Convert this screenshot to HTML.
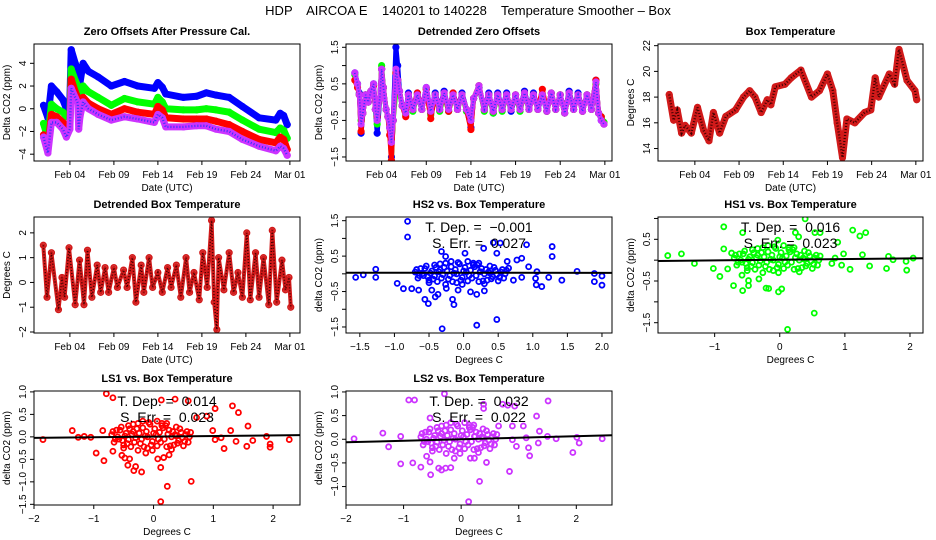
<!DOCTYPE html>
<html><head><meta charset="utf-8">
<style>
html,body{margin:0;padding:0;background:#fff;}
svg{display:block;font-family:"Liberation Sans",sans-serif;}
</style></head>
<body>
<svg id="chart" width="936" height="540" viewBox="0 0 936 540">
<text x="468" y="15" text-anchor="middle" font-size="13" style="white-space:pre">HDP    AIRCOA E    140201 to 140228    Temperature Smoother – Box</text>
</svg>
<script>
// ===== data =====
const timeTickDays = [4, 9, 14, 19, 24, 29];
const timeTickLabels = ["Feb 04", "Feb 09", "Feb 14", "Feb 19", "Feb 24", "Mar 01"];

const zeroDays = [1.0,1.5,1.9,2.5,3.2,3.6,4.0,4.15,4.6,4.9,5.0,5.15,5.5,6.1,7.2,8.7,10.2,11.7,13.6,14.0,14.5,14.9,16.9,18.4,19.5,20.6,22.1,23.6,25.5,27.4,27.9,28.3,28.7];
const zeroHS2 = [0.3,-0.8,2.0,1.5,0.8,0.0,0.8,5.2,4.0,3.5,1.5,2.3,4.0,3.3,2.8,2.0,2.4,2.0,1.8,2.3,1.9,1.3,1.0,1.1,1.4,1.2,1.0,0.2,-0.8,-1.0,-0.4,-0.6,-1.4];
const zeroHS1 = [-1.3,-2.6,0.4,0.0,-0.3,-0.7,-0.5,3.5,2.5,2.0,-0.5,0.5,2.0,1.5,1.0,0.3,0.9,0.6,0.4,1.0,0.6,0.0,-0.1,-0.1,0.0,-0.1,-0.3,-1.0,-1.8,-2.1,-1.7,-1.9,-2.6];
const zeroLS1 = [-2.3,-3.5,-0.5,-0.7,-1.2,-1.5,-1.5,2.6,1.5,1.0,-1.0,0.0,1.0,0.5,0.0,-0.5,0.0,-0.3,-0.5,0.2,-0.1,-0.8,-0.9,-0.9,-0.9,-1.1,-1.4,-2.0,-2.7,-3.0,-2.5,-2.7,-3.6];
const zeroLS2 = [-2.5,-3.9,-1.2,-1.2,-1.8,-2.5,-1.8,1.8,1.0,0.5,-1.8,-0.7,0.6,0.0,-0.5,-1.0,-0.7,-0.9,-1.2,-0.5,-0.8,-1.6,-1.6,-1.5,-1.5,-1.8,-2.0,-2.7,-3.3,-3.7,-3.3,-3.5,-4.1];

const detDays = [1.0,1.3,1.5,1.7,1.9,2.2,2.5,2.8,3.1,3.3,3.5,3.8,4.0,4.2,4.5,4.7,4.9,5.1,5.3,5.6,5.8,6.0,6.3,6.7,7.0,7.5,8.0,8.5,9.0,9.5,10.0,10.5,11.0,11.5,12.0,12.5,13.0,13.5,14.0,14.3,14.9,15.5,16.0,16.5,17.0,17.5,18.0,18.5,19.0,19.5,20.0,20.5,21.0,21.5,22.0,22.5,23.0,23.5,24.0,24.5,25.0,25.5,26.0,26.5,27.0,27.5,28.0,28.3,28.6,28.9];
const detHS2 = [0.8,0.5,0.25,-0.85,-0.3,0.2,0.0,0.3,0.5,-0.2,-0.85,0.1,0.9,0.4,-0.2,-0.4,-0.7,-1.5,-0.5,1.5,1.0,0.3,-0.1,-0.3,0.25,-0.2,0.25,-0.2,0.4,-0.3,0.25,-0.2,0.3,-0.25,0.25,-0.2,0.25,-0.2,-0.7,0.1,0.4,-0.2,0.25,-0.3,0.25,-0.2,0.25,-0.25,0.2,-0.2,0.3,-0.2,0.25,-0.2,0.2,-0.25,0.25,-0.2,0.2,-0.3,0.3,-0.2,0.25,-0.25,0.2,-0.2,0.6,-0.3,-0.5,-0.6];
const detHS1 = [0.75,0.5,0.2,-0.5,-0.3,0.2,0.0,0.3,0.45,-0.2,-0.6,0.1,1.0,0.4,-0.2,-0.4,-0.6,-1.6,-0.5,0.3,0.6,0.3,-0.1,-0.35,0.2,-0.25,0.2,-0.2,0.35,-0.35,0.2,-0.25,0.2,-0.25,0.2,-0.2,0.2,-0.25,-0.5,0.1,0.45,-0.25,0.2,-0.3,0.2,-0.25,0.2,-0.2,0.2,-0.25,0.25,-0.2,0.2,-0.2,0.2,-0.25,0.25,-0.2,0.2,-0.3,0.25,-0.2,0.2,-0.25,0.2,-0.2,0.5,-0.3,-0.4,-0.55];
const detLS1 = [0.6,0.4,0.2,-0.8,-0.3,0.2,0.0,0.3,0.45,-0.2,-0.4,0.1,0.9,0.4,-0.2,-0.4,-0.9,-1.6,-0.5,0.8,0.6,0.3,-0.1,-0.4,0.2,-0.2,0.25,-0.2,0.35,-0.45,0.2,-0.2,0.25,-0.25,0.25,-0.2,0.2,-0.2,-0.75,0.1,0.45,-0.2,0.2,-0.25,0.2,-0.2,0.2,-0.2,0.2,-0.2,0.25,-0.2,0.2,-0.2,0.35,-0.25,0.25,-0.2,0.2,-0.3,0.25,-0.2,0.2,-0.25,0.2,-0.2,0.6,-0.3,-0.4,-0.6];
const detLS2 = [0.8,0.5,0.2,-0.6,-0.3,0.2,0.0,0.3,0.5,-0.2,-0.5,0.1,0.9,0.4,-0.2,-0.4,-0.7,-1.1,-0.5,0.9,0.6,0.3,-0.1,-0.3,0.2,-0.2,0.2,-0.2,0.4,-0.25,0.2,-0.2,0.25,-0.2,0.2,-0.2,0.2,-0.2,-0.5,0.1,0.45,-0.2,0.2,-0.25,0.2,-0.2,0.2,-0.2,0.2,-0.2,0.25,-0.2,0.2,-0.2,0.2,-0.25,0.25,-0.2,0.2,-0.3,0.25,-0.2,0.2,-0.25,0.2,-0.2,0.55,-0.3,-0.5,-0.6];

const boxDays = [1.1,1.6,2.0,2.5,2.9,3.6,4.3,5.0,5.6,6.1,6.8,7.5,8.6,9.5,10.2,10.8,11.5,12.2,12.6,13.1,14.2,14.9,16.0,17.2,18.1,19.0,19.6,20.1,20.7,21.2,22.1,23.2,23.9,24.4,24.8,26.0,26.6,27.1,28.0,28.9,29.1];
const boxTemp = [18.2,16.2,17.0,15.2,15.8,15.2,17.2,15.4,14.6,16.8,15.2,16.5,17.0,18.0,18.5,18.0,16.8,17.8,17.4,18.8,19.0,19.5,20.1,18.0,18.5,19.8,18.5,16.0,13.3,16.3,16.0,16.8,17.0,19.5,18.0,19.8,19.0,21.7,19.3,18.5,17.8];

const dbtDays = [0.98,1.4,1.9,2.7,3.1,3.4,3.9,4.6,5.1,5.6,6.0,6.5,7.1,7.5,8.0,8.4,9.0,9.4,10.1,10.5,11.1,11.5,12.1,12.4,13.0,13.4,14.0,14.5,15.1,15.5,16.1,16.6,17.2,17.6,18.1,18.7,19.1,19.6,20.1,20.4,20.7,20.9,21.5,22.1,22.6,23.1,23.6,24.1,24.5,25.1,25.5,26.0,26.6,27.0,27.5,28.1,28.5,28.9,29.1];
const dbtTemp = [1.5,-0.6,1.2,-1.1,0.2,-0.6,1.4,-0.9,0.9,-0.9,1.3,-0.6,0.7,-0.4,0.6,-0.4,0.6,-0.2,0.5,-0.2,1.0,-0.8,0.7,-0.4,1.0,-0.2,0.4,-0.4,0.6,-0.2,0.7,-0.6,1.0,-0.4,0.4,-0.7,1.2,-0.2,2.5,-0.8,-1.9,1.0,-0.3,1.2,-0.4,0.4,-0.6,2.0,-0.7,1.2,-0.6,1.0,-0.9,2.1,-0.8,0.9,-0.3,0.2,-1.0];

// dense central clouds (shared-shape readings for each scatter)
const cloudX = [-0.7,-0.66,-0.62,-0.58,-0.54,-0.5,-0.46,-0.42,-0.38,-0.34,-0.3,-0.26,-0.22,-0.18,-0.14,-0.1,-0.06,-0.02,0.02,0.06,0.1,0.14,0.18,0.22,0.26,0.3,0.34,0.38,0.42,0.46,0.5,0.54,0.58,0.62,
 -0.68,-0.6,-0.52,-0.44,-0.36,-0.28,-0.2,-0.12,-0.04,0.04,0.12,0.2,0.28,0.36,0.44,0.52,0.6,
 -0.64,-0.56,-0.48,-0.4,-0.32,-0.24,-0.16,-0.08,0.0,0.08,0.16,0.24,0.32,0.4,0.48,0.56,
 -0.5,-0.42,-0.34,-0.26,-0.18,-0.1,-0.02,0.06,0.14,0.22,0.3,0.38];
const cloudY = [0.05,-0.12,0.15,-0.05,0.22,-0.18,0.08,0.25,-0.22,0.12,-0.02,0.3,-0.15,0.2,0.02,-0.25,0.28,-0.1,0.18,-0.2,0.1,0.3,-0.05,-0.22,0.15,0.0,-0.18,0.22,-0.08,0.1,-0.2,0.05,-0.12,0.1,
 0.12,0.0,-0.08,-0.15,0.06,0.18,-0.05,0.12,-0.18,0.05,-0.12,0.25,-0.2,0.05,0.18,-0.1,0.0,
 -0.05,0.15,0.02,0.18,-0.12,0.08,-0.22,0.32,0.08,-0.05,0.2,0.06,0.12,-0.14,-0.02,0.12,
 -0.25,-0.06,0.28,-0.3,0.35,0.0,-0.3,0.35,0.25,0.3,-0.28,0.02];

const hs2X = [-0.81,-0.81,-1.56,-1.45,-1.27,-1.27,-0.96,-0.87,-0.75,-0.65,-0.56,-0.51,-0.46,-0.41,-0.37,-0.32,-0.26,-0.31,-0.25,-0.16,-0.14,-0.08,0.02,0.10,0.19,0.19,0.29,0.30,0.43,0.48,0.48,0.53,0.63,0.65,0.77,0.84,0.91,0.94,1.04,1.05,1.13,1.23,1.28,1.28,1.42,1.64,1.89,1.89,2.0,2.0,1.06,0.84,0.72];
const hs2Y = [1.48,1.04,-0.10,-0.03,0.13,-0.10,-0.27,-0.42,-0.42,-0.46,-0.72,-0.84,-0.46,-0.65,-0.58,0.63,0.49,-1.55,-0.41,-0.72,-0.87,-0.46,0.58,-0.51,-1.45,-0.58,0.72,-0.48,0.88,0.58,-1.29,0.87,0.35,0.16,0.39,0.44,0.82,0.20,-0.13,-0.31,-0.36,-0.10,0.77,0.49,-0.18,0.07,0.01,-0.22,-0.06,-0.32,0.06,-0.10,-0.18];
const hs1X = [-1.72,-1.51,-1.31,-1.02,-0.92,-0.86,-0.86,-0.80,-0.74,-0.71,-0.57,-0.57,-0.58,-0.48,-0.48,-0.32,-0.21,-0.17,-0.02,0.03,-0.03,0.12,0.24,0.29,0.39,0.53,0.54,0.62,0.89,0.85,0.95,0.98,1.08,1.12,1.23,1.27,1.32,1.38,1.64,1.67,1.74,1.94,1.95,2.05,0.80];
const hs1Y = [0.11,0.15,-0.08,-0.20,-0.39,0.80,0.27,-0.21,0.17,-0.61,0.66,-0.73,-0.36,-0.49,-0.61,-0.45,-0.67,-0.68,-0.76,-0.69,0.48,-1.66,0.66,0.56,0.99,-1.27,0.66,0.66,0.43,0.05,-0.12,0.15,-0.22,0.72,0.58,0.13,0.66,-0.14,-0.20,0.09,0.01,-0.03,-0.24,0.05,-0.08];
const ls1X = [-1.85,-1.36,-1.26,-1.16,-1.05,-0.96,-0.85,-0.83,-0.79,-0.68,-0.68,-0.53,-0.48,-0.43,-0.40,-0.33,-0.30,-0.20,-0.13,0.12,0.13,0.07,0.23,0.12,0.36,0.58,0.63,0.72,0.89,0.99,1.03,1.03,1.13,1.18,1.29,1.32,1.38,1.42,1.56,1.58,1.66,1.89,1.95,1.95,2.27,0.26,0.17];
const ls1Y = [-0.06,0.14,-0.01,0.01,-0.01,-0.36,0.14,-0.53,0.96,0.87,-0.32,-0.41,-0.47,-0.63,-0.49,-0.75,-0.66,-0.78,-0.36,-0.68,0.82,-0.49,-1.10,-1.44,0.84,0.80,-0.99,0.43,0.46,0.14,0.63,-0.06,-0.02,-0.26,0.14,0.69,-0.10,0.54,-0.21,0.24,-0.08,0.01,-0.16,-0.23,-0.06,-0.40,-0.46];
const ls2X = [-1.86,-1.36,-1.26,-1.05,-1.05,-0.91,-0.81,-0.84,-0.70,-0.60,-0.54,-0.53,-0.54,-0.39,-0.34,-0.27,-0.29,-0.18,-0.12,0.13,0.16,0.23,0.32,0.39,0.39,0.44,0.72,0.81,0.65,0.84,0.89,0.89,0.93,0.96,1.08,1.13,1.17,1.19,1.31,1.34,1.36,1.51,1.50,1.65,1.94,2.01,2.05,2.45,0.23];
const ls2Y = [0.01,0.13,-0.16,0.06,-0.52,0.83,0.83,-0.50,-0.59,-0.36,-0.48,-0.75,0.45,-0.61,-0.65,-0.61,0.96,-0.60,-0.40,-1.32,-0.40,-0.40,-0.89,0.74,0.65,-0.49,0.74,0.72,0.28,-0.68,0.28,-0.01,0.70,-0.15,0.28,0.03,-0.18,-0.35,0.49,-0.08,0.17,0.81,0.06,0.01,-0.28,0.04,-0.08,0.01,0.06];

const slopes = [-0.001, 0.016, 0.014, 0.032];
const intercepts = [0.03, 0.01, 0.005, 0.0];
const slopeLabels = ["-0.001", "0.016", "0.014", "0.032"];
const errLabels = ["0.027", "0.023", "0.023", "0.022"];

// ===== drawing =====
const svg = document.getElementById('chart');
const NS = 'http://www.w3.org/2000/svg';
function mk(tag, attrs, parent) {
  const e = document.createElementNS(NS, tag);
  for (const k in attrs) e.setAttribute(k, attrs[k]);
  (parent || svg).appendChild(e);
  return e;
}
const COLS = [[34,300],[346,612],[658,923]];
const ROWS = [[44,161],[217,333],[391,505]];

function panel(name, col, row, xd, yd, title, xTitle, yTitle) {
  const g = mk('g', {});
  
  
  const [x0,x1] = COLS[col], [y0,y1] = ROWS[row];
  const sx = v => x0 + (v - xd[0]) / (xd[1] - xd[0]) * (x1 - x0);
  const sy = v => y1 - (v - yd[0]) / (yd[1] - yd[0]) * (y1 - y0);
  const t = mk('text', {x:(x0+x1)/2, y:y0-9, 'text-anchor':'middle', 'font-size':11, 'font-weight':'bold'}, g);
  t.textContent = title;
  
  
  const xt = mk('text', {x:(x0+x1)/2, y:y1+30, 'text-anchor':'middle', 'font-size':10}, g);
  xt.textContent = xTitle;
  
  
  const yt = mk('text', {x:0, y:0, 'text-anchor':'middle', 'font-size':10, transform:`translate(${x0-24},${(y0+y1)/2}) rotate(-90)`}, g);
  yt.textContent = yTitle;
  
  
  const clip = mk('clipPath', {id: 'clip-' + name}, g);
  mk('rect', {x:x0, y:y0, width:x1-x0, height:y1-y0}, clip);
  const plot = mk('g', {'clip-path': `url(#clip-${name})`}, g);
  
  
  return {g, plot, sx, sy, x0, x1, y0, y1};
}
function xAxis(p, vals, labels) {
  vals.forEach((v, i) => {
    const x = p.sx(v);
    mk('line', {x1:x, x2:x, y1:p.y1, y2:p.y1+4, stroke:'#000'}, p.g);
    if (labels[i] !== '') {
      const t = mk('text', {x:x, y:p.y1+17, 'text-anchor':'middle', 'font-size':10}, p.g);
      t.textContent = labels[i];
      
      
    }
  });
}
function yAxis(p, vals, labels) {
  vals.forEach((v, i) => {
    const y = p.sy(v);
    mk('line', {x1:p.x0-4, x2:p.x0, y1:y, y2:y, stroke:'#000'}, p.g);
    if (labels[i] !== '') {
      const t = mk('text', {x:0, y:0, 'text-anchor':'middle', 'font-size':10, transform:`translate(${p.x0-8},${y}) rotate(-90)`}, p.g);
      t.textContent = labels[i];
      
      
    }
  });
}
function frame(p) {
  const r = mk('rect', {x:p.x0, y:p.y0, width:p.x1-p.x0, height:p.y1-p.y0, fill:'none', stroke:'#000'}, p.g);
  
  
}
function band(p, xs, ys, color, w, name, dots) {
  const pts = xs.map((x, i) => p.sx(x).toFixed(1) + ',' + p.sy(ys[i]).toFixed(1)).join(' ');
  const l = mk('polyline', {points:pts, fill:'none', stroke:color, 'stroke-width':w, 'stroke-linejoin':'round', 'stroke-linecap':'round'}, p.plot);
  
  
  xs.forEach((x, i) => {
    const c = mk('circle', {cx:p.sx(x), cy:p.sy(ys[i]), r:2.8, fill:'none', stroke:color, 'stroke-width':1.6}, p.plot);
    
    
  });
  if (dots) {
    const d = mk('polyline', {points:pts, fill:'none', stroke:dots, 'stroke-width':Math.max(1.5, w/3), 'stroke-dasharray':'1 2'}, p.plot);
    
    
  }
}
function scatter(p, xs, ys, color, name) {
  xs.forEach((x, i) => {
    const c = mk('circle', {cx:p.sx(x), cy:p.sy(ys[i]), r:2.5, fill:'none', stroke:color, 'stroke-width':1.8}, p.plot);
    
    
  });
}
function fit(p, xd, k, fs) {
  const l = mk('line', {x1:p.sx(xd[0]), x2:p.sx(xd[1]), y1:p.sy(intercepts[k]+slopes[k]*xd[0]), y2:p.sy(intercepts[k]+slopes[k]*xd[1]), stroke:'#000', 'stroke-width':2}, p.plot);
  
  
  const cx = (p.x0+p.x1)/2;
  const t1 = mk('text', {x:cx, y:p.y0+15, 'text-anchor':'middle', 'font-size':fs, style:'white-space:pre'}, p.g);
  t1.textContent = 'T. Dep. =  ' + slopeLabels[k].replace('-', '\u2212');
  
  
  const t2 = mk('text', {x:cx, y:p.y0+31, 'text-anchor':'middle', 'font-size':fs, style:'white-space:pre'}, p.g);
  t2.textContent = 'S. Err. =  ' + errLabels[k];
  
  
}
const BLUE='#0000ff', GREEN='#00ff00', RED='#ff0000', PURP='#cc33ff', DRED='#d11a1a';

// Panel 1
let p = panel('zero-offsets-panel', 0, 0, [-0.08,30.15], [-4.6,5.7], 'Zero Offsets After Pressure Cal.', 'Date (UTC)', 'Delta CO2 (ppm)');
band(p, zeroDays, zeroHS2, BLUE, 7, 'series-hs2');
band(p, zeroDays, zeroHS1, GREEN, 7, 'series-hs1');
band(p, zeroDays, zeroLS1, RED, 7, 'series-ls1');
band(p, zeroDays, zeroLS2, PURP, 7, 'series-ls2', '#3333ff');
xAxis(p, timeTickDays, timeTickLabels);
yAxis(p, [-4,-2,0,2,4], ['\u22124','\u22122','0','2','4']);
frame(p);

// Panel 2
p = panel('detrended-zero-panel', 1, 0, [0.01,29.8], [-1.61,1.59], 'Detrended Zero Offsets', 'Date (UTC)', 'Delta CO2 (ppm)');
band(p, detDays, detHS2, BLUE, 5, 'series-hs2');
band(p, detDays, detHS1, GREEN, 5, 'series-hs1');
band(p, detDays, detLS1, RED, 5, 'series-ls1');
band(p, detDays, detLS2, PURP, 5, 'series-ls2', '#3333ff');
xAxis(p, timeTickDays, timeTickLabels);
yAxis(p, [-1.5,-1,-0.5,0,0.5,1,1.5], ['\u22121.5','','\u22120.5','','0.5','','1.5']);
frame(p);

// Panel 3
p = panel('box-temperature-panel', 2, 0, [-0.17,29.81], [13.03,22.13], 'Box Temperature', 'Date (UTC)', 'Degrees C');
band(p, boxDays, boxTemp, DRED, 7, 'series-box-temp', '#400000');
xAxis(p, timeTickDays, timeTickLabels);
yAxis(p, [14,16,18,20,22], ['14','16','18','20','22']);
frame(p);

// Panel 4
p = panel('detrended-box-temp-panel', 0, 1, [-0.08,30.15], [-2.04,2.64], 'Detrended Box Temperature', 'Date (UTC)', 'Degrees C');
band(p, dbtDays, dbtTemp, DRED, 4, 'series-detrended-temp', '#400000');
xAxis(p, timeTickDays, timeTickLabels);
yAxis(p, [-2,-1,0,1,2], ['\u22122','\u22121','0','1','2']);
frame(p);

// Panel 5 HS2
let xd = [-1.70,2.145];
p = panel('hs2-scatter-panel', 1, 1, xd, [-1.67,1.604], 'HS2 vs. Box Temperature', 'Degrees C', 'delta CO2 (ppm)');
scatter(p, hs2X, hs2Y, BLUE, 'hs2-point');
scatter(p, cloudX, cloudY, BLUE, 'hs2-point');
fit(p, xd, 0, 14);
xAxis(p, [-1.5,-1,-0.5,0,0.5,1,1.5,2], ['\u22121.5','\u22121.0','\u22120.5','0.0','0.5','1.0','1.5','2.0']);
yAxis(p, [-1.5,-1,-0.5,0,0.5,1,1.5], ['\u22121.5','','\u22120.5','','0.5','','1.5']);
frame(p);

// Panel 6 HS1
xd = [-1.87,2.20];
p = panel('hs1-scatter-panel', 2, 1, xd, [-1.747,1.035], 'HS1 vs. Box Temperature', 'Degrees C', 'delta CO2 (ppm)');
scatter(p, hs1X, hs1Y, GREEN, 'hs1-point');
scatter(p, cloudX, cloudY, GREEN, 'hs1-point');
fit(p, xd, 1, 14);
xAxis(p, [-1,0,1,2], ['\u22121','0','1','2']);
yAxis(p, [-1.5,-1,-0.5,0,0.5,1], ['\u22121.5','','\u22120.5','','0.5','']);
frame(p);

// Panel 7 LS1
xd = [-2.0,2.45];
p = panel('ls1-scatter-panel', 0, 2, xd, [-1.515,1.02], 'LS1 vs. Box Temperature', 'Degrees C', 'delta CO2 (ppm)');
scatter(p, ls1X, ls1Y, RED, 'ls1-point');
scatter(p, cloudX, cloudY, RED, 'ls1-point');
fit(p, xd, 2, 14);
xAxis(p, [-2,-1,0,1,2], ['\u22122','\u22121','0','1','2']);
yAxis(p, [-1.5,-1,-0.5,0,0.5,1], ['\u22121.5','\u22121.0','\u22120.5','0.0','0.5','1.0']);
frame(p);

// Panel 8 LS2
xd = [-2.0,2.62];
p = panel('ls2-scatter-panel', 1, 2, xd, [-1.39,1.02], 'LS2 vs. Box Temperature', 'Degrees C', 'delta CO2 (ppm)');
scatter(p, ls2X, ls2Y, PURP, 'ls2-point');
scatter(p, cloudX, cloudY, PURP, 'ls2-point');
fit(p, xd, 3, 14);
xAxis(p, [-2,-1,0,1,2], ['\u22122','\u22121','0','1','2']);
yAxis(p, [-1,-0.5,0,0.5,1], ['\u22121.0','\u22120.5','0.0','0.5','1.0']);
frame(p);
</script>
</body></html>
